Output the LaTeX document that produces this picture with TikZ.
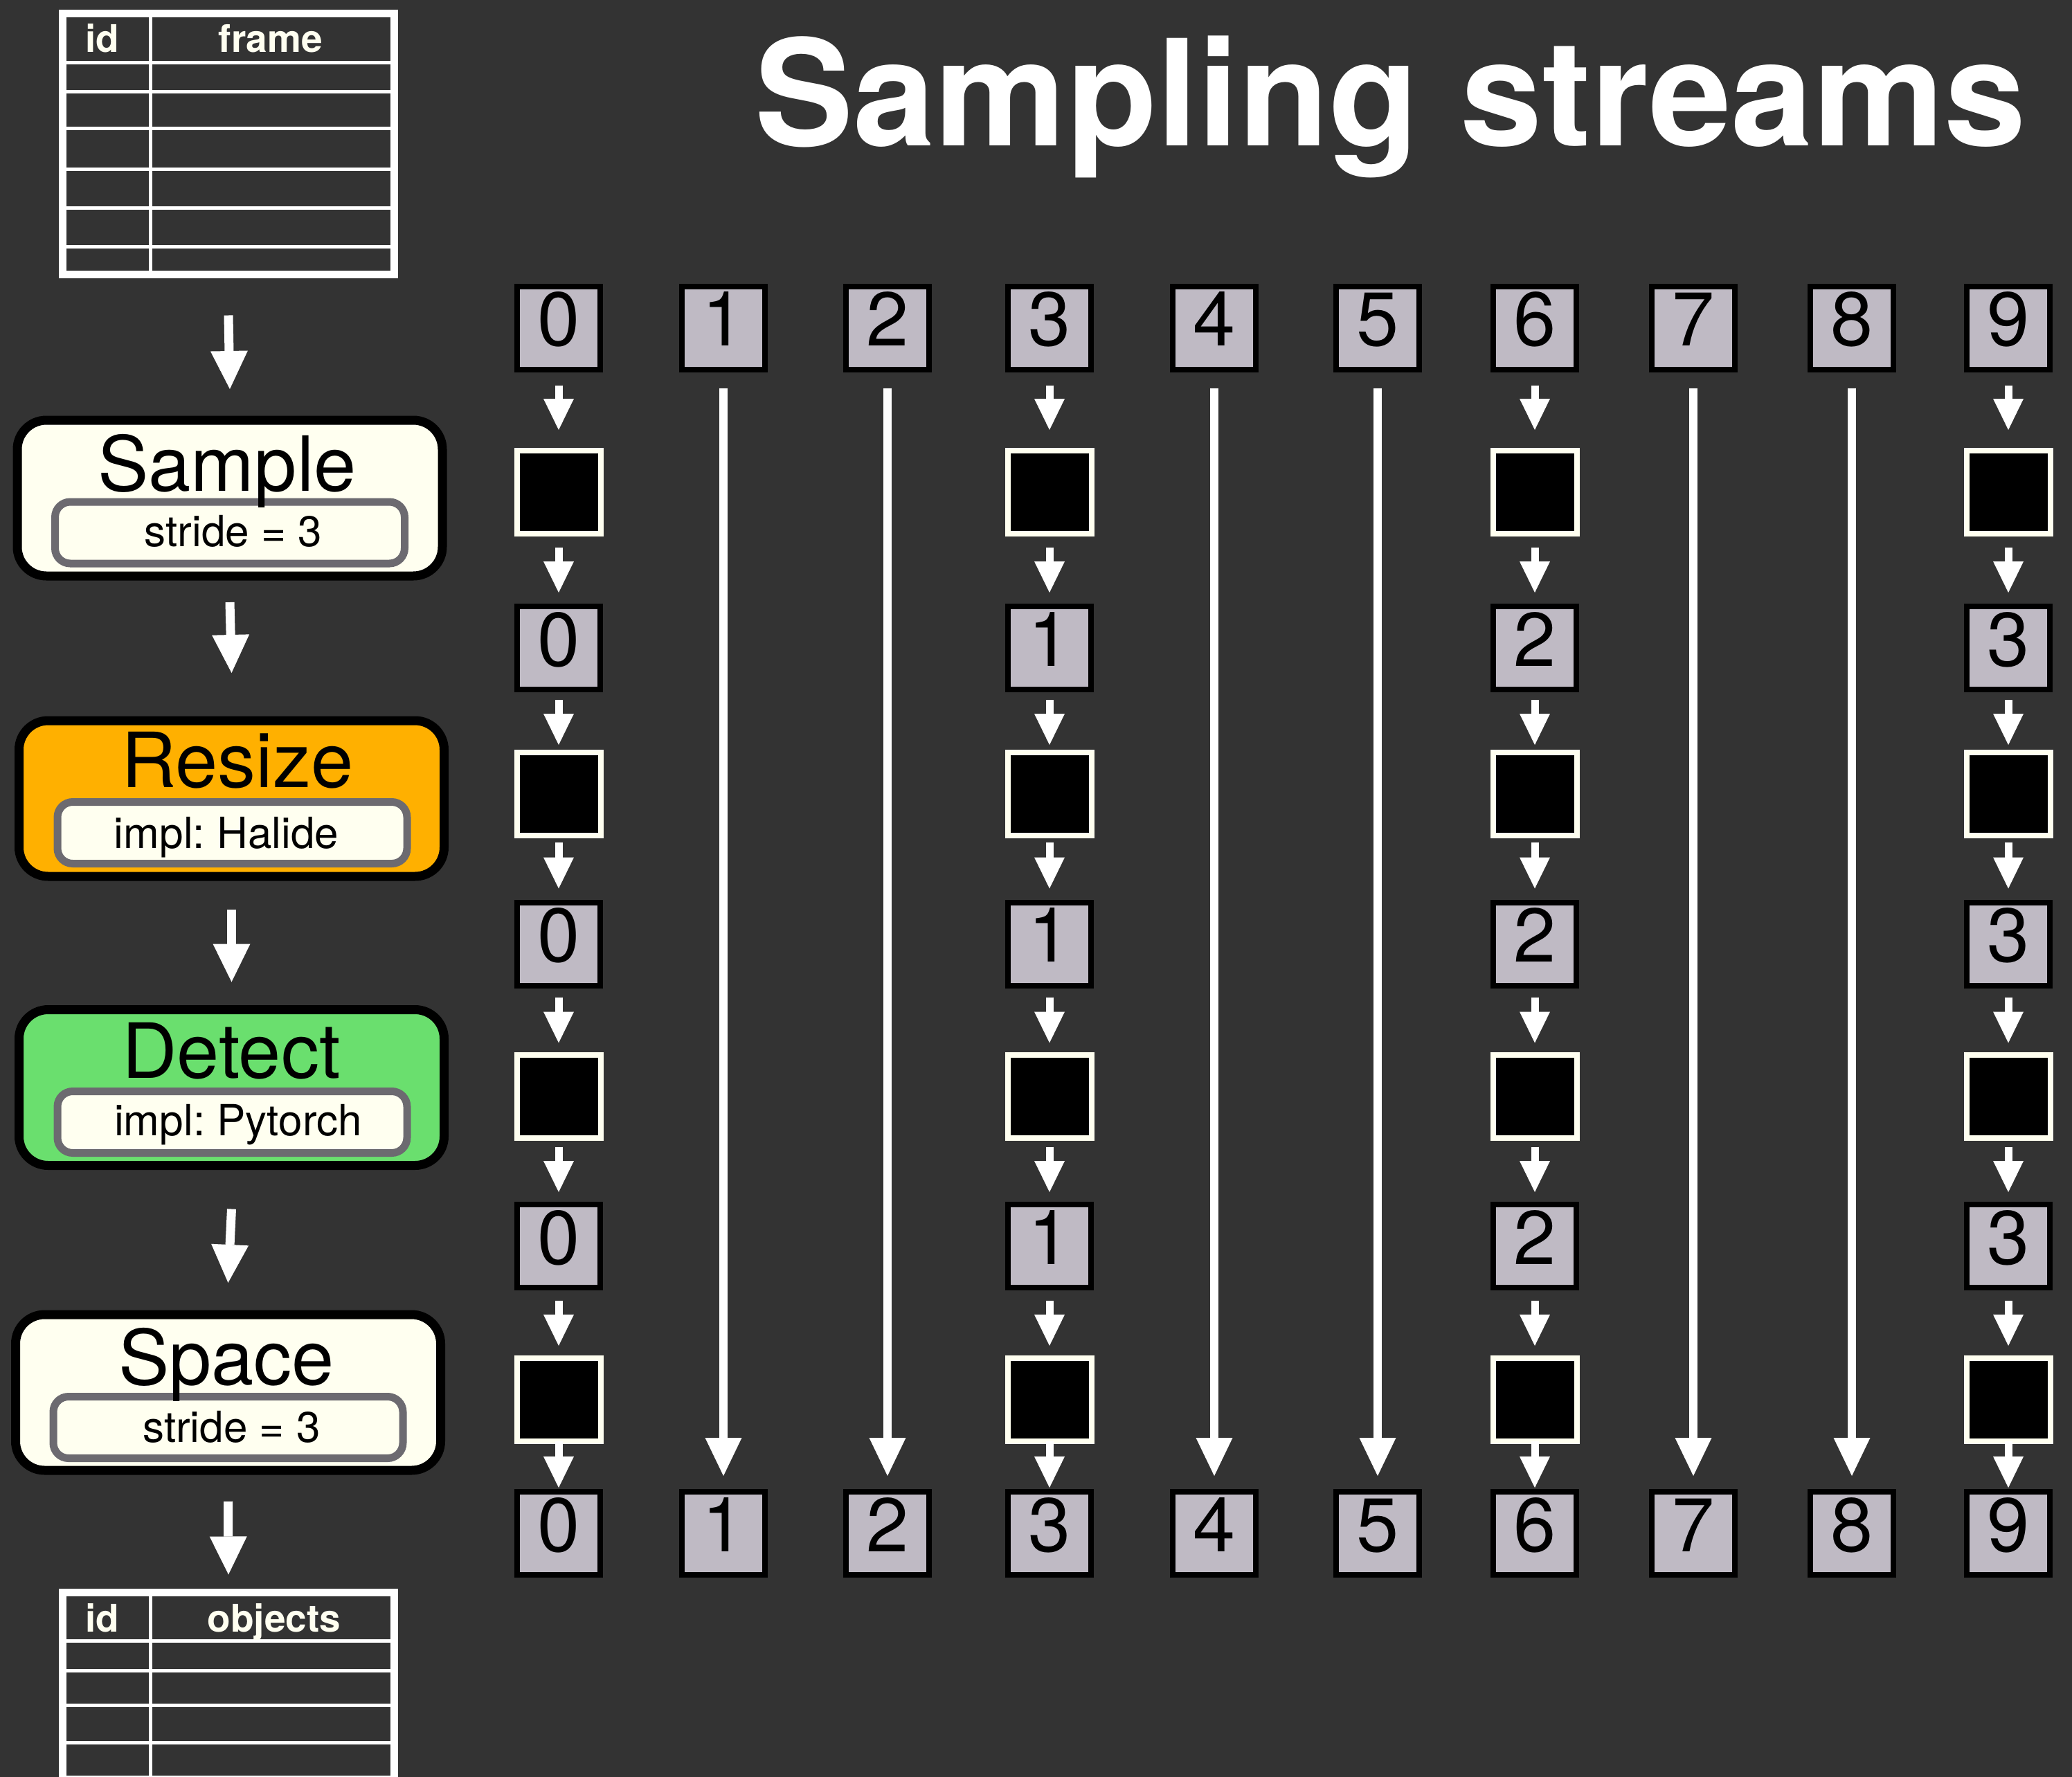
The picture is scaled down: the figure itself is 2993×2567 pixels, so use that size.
\documentclass[tikz,border=0pt]{standalone}
\usepackage{fontspec}
\setmainfont{TeX Gyre Heros}
\usetikzlibrary{arrows.meta,calc}
\definecolor{bg}{RGB}{51,51,51}
\definecolor{numgray}{RGB}{191,186,196}
\definecolor{ivory}{RGB}{255,255,240}
\definecolor{pgray}{RGB}{108,106,112}
\definecolor{amber}{RGB}{255,176,0}
\definecolor{lgreen}{RGB}{106,223,110}
\frenchspacing
\begin{document}
\begin{tikzpicture}[x=1pt,y=-1pt,
  numbox/.style={draw=black, fill=numgray, line width=8pt, minimum width=120pt, minimum height=120pt, inner sep=0pt, font=\fontsize{110}{110}\selectfont, text height=78pt, text depth=26pt},
  blkbox/.style={draw=ivory, fill=black, line width=8pt, minimum width=121pt, minimum height=120pt, inner sep=0pt},
  stage/.style={draw=black, line width=13pt, rounded corners=42pt, minimum width=614pt, minimum height=225pt, inner sep=0pt},
  param/.style={draw=pgray, fill=ivory, line width=11pt, rounded corners=22pt, minimum width=505pt, minimum height=89pt, inner sep=0pt},
  stagetxt/.style={font=\fontsize{110}{110}\selectfont, text=black, anchor=base, inner sep=0pt},
  paramtxt/.style={font=\fontsize{62}{62}\selectfont, text=black, anchor=base, inner sep=0pt},
  tblbox/.style={draw=white, line width=11pt, minimum width=479pt, inner sep=0pt},
  tline/.style={draw=white, line width=5pt},
  thead/.style={font=\fontsize{55}{55}\selectfont\bfseries, text=ivory, anchor=base, inner sep=0pt},
  sarr/.style={draw=white, line width=11pt, -{Triangle[width=44pt,length=45pt,line width=0pt]}},
  larr/.style={draw=white, line width=12.5pt, -{Triangle[width=53pt,length=55pt,line width=0pt]}},
  barr/.style={draw=white, line width=13pt, -{Triangle[width=54pt,length=55pt,line width=0pt]}}
]
\fill[bg] (0,0) rectangle (2993,2567);
\useasboundingbox (0,0) rectangle (2993,2567);

% title
\node[anchor=base west, inner sep=0pt, text=white, font=\fontsize{213}{213}\selectfont\bfseries] (title) at (1090,210) {Sampling streams};

% top table
\node[tblbox, minimum height=377pt] (ttop) at (330,208) {};
\foreach \yy in {90,132,185,244,300,356} \draw[tline] (90.5,\yy) -- (569.5,\yy);
\draw[tline] (217,19.5) -- (217,396.5);
\node[thead] (tid) at (147.5,75) {id};
\node[thead] (tframe) at (391,75) {frame};

% bottom table
\node[tblbox, minimum height=400pt] (tbot) at (330,2500.5) {};
\foreach \yy in {2370,2413,2463,2517,2567} \draw[tline] (90.5,\yy) -- (569.5,\yy);
\draw[tline] (217,2300.5) -- (217,2700);
\node[thead] (bid) at (147.5,2357) {id};
\node[thead] (bobj) at (396,2357) {objects};

% stages
\node[stage, fill=ivory] (sample) at (332,719.5) {};
\node[param] (sampleP) at (332,769.5) {};
\node[stagetxt] (sampleT) at (328,709) {Sample};
\node[paramtxt] (sampleS) at (337,789) {stride = 3};

\node[stage, fill=amber] (resize) at (334.5,1153.5) {};
\node[param] (resizeP) at (335.5,1203) {};
\node[stagetxt] (resizeT) at (343,1137) {Resize};
\node[paramtxt] (resizeS) at (327,1225) {impl: Halide};

\node[stage, fill=lgreen] (detect) at (334.5,1571) {};
\node[param] (detectP) at (335.5,1621) {};
\node[stagetxt] (detectT) at (334,1557) {Detect};
\node[paramtxt] (detectS) at (344,1640) {impl: Pytorch};

\node[stage, fill=ivory] (space) at (329.5,2011.5) {};
\node[param] (spaceP) at (329.5,2062) {};
\node[stagetxt] (spaceT) at (327,2000) {Space};
\node[paramtxt] (spaceS) at (334.5,2083) {stride = 3};

% stage arrows
\draw[barr] ([yshift=-53.5pt]ttop.south) -- ([yshift=38.5pt]sample.north);
\draw[barr] ([yshift=-31.5pt]sample.south) -- ([yshift=62.5pt]resize.north);
\draw[barr] ([yshift=-41.5pt]resize.south) -- ([yshift=33.5pt]detect.north);
\draw[barr] ([yshift=-56.5pt]detect.south) -- ([yshift=39.5pt]space.north);
\draw[barr] ([yshift=-38.5pt]space.south) -- ([yshift=20.5pt]tbot.north);

% frame columns
\foreach \i/\x in {0/807,1/1045,2/1282,3/1516,4/1754,5/1990,6/2217,7/2446,8/2675,9/2901}{
  \node[numbox] (t\i) at (\x,473.5) {\i};
  \node[numbox] (b\i) at (\x,2215) {\i};
}
% skipped columns
\foreach \i in {1,2,4,5,7,8}{
  \draw[larr] ([yshift=-23pt]t\i.south) -- ([yshift=19pt]b\i.north);
}
% sampled columns
\foreach \i/\x/\k in {0/807/0,3/1516/1,6/2217/2,9/2901/3}{
  \node[blkbox] (ka\i) at (\x,711) {};
  \node[numbox] (na\i) at (\x,936) {\k};
  \node[blkbox] (kb\i) at (\x,1147) {};
  \node[numbox] (nb\i) at (\x,1363.5) {\k};
  \node[blkbox] (kc\i) at (\x,1583.5) {};
  \node[numbox] (nc\i) at (\x,1800) {\k};
  \node[blkbox] (kd\i) at (\x,2022) {};
  \foreach \a/\b/\s/\e in {t/ka/19/26, ka/na/16/16, na/kb/11/7, kb/nb/6/16, nb/kc/13/13, kc/nc/9/14, nc/kd/15/14}{
    \draw[sarr] ([yshift=-\s pt]\a\i.south) -- ([yshift=\e pt]\b\i.north);
  }
  \draw[sarr] ([yshift=4pt]kd\i.south) -- ([yshift=2pt]b\i.north);
}
\end{tikzpicture}
\end{document}
